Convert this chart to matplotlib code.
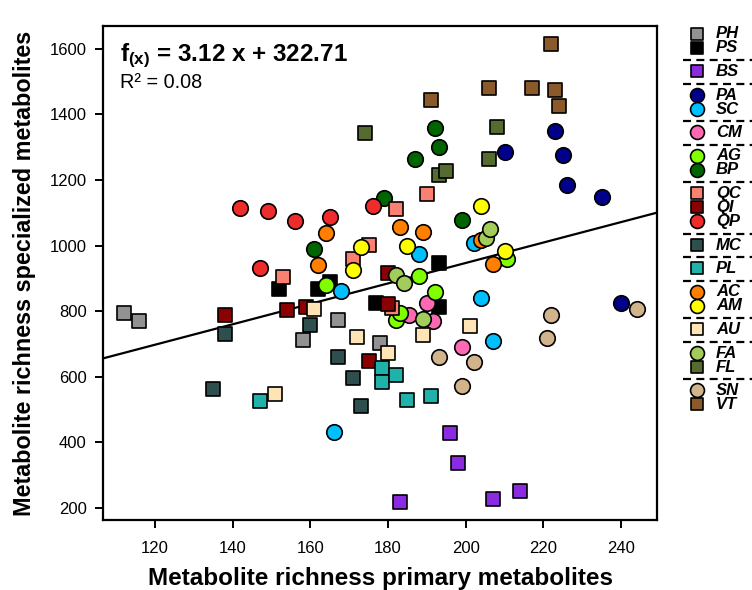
import matplotlib
matplotlib.use("Agg")
import matplotlib.pyplot as plt
import numpy as np

plt.rcParams['font.family'] = ['Liberation Sans', 'DejaVu Sans']
plt.rcParams['mathtext.fontset'] = 'custom'
plt.rcParams['mathtext.rm'] = 'Liberation Sans'
plt.rcParams['mathtext.bf'] = 'Liberation Sans:bold'

# site data (primary richness x, specialized richness y)
PH_x = [112, 116, 158, 167, 178]
PH_y = [793, 770, 712, 772, 701]
PS_x = [152, 162, 165, 177, 193, 193]
PS_y = [867, 867, 890, 824, 813, 947]
BS_x = [183, 196, 198, 207, 214]
BS_y = [216, 428, 335, 225, 251]
PA_x = [210, 223, 225, 226, 235, 240]
PA_y = [1285, 1349, 1276, 1184, 1149, 825]
SC_x = [166, 168, 188, 202, 204, 207]
SC_y = [432, 862, 973, 1007, 840, 709]
CM_x = [185.5, 190, 191.5, 199]
CM_y = [788, 823, 769, 689]
AG_x = [164, 182, 183, 188, 192, 210.5]
AG_y = [878, 772, 793, 908, 858, 958]
BP_x = [161, 179, 187, 192, 193, 199]
BP_y = [988, 1144, 1264, 1359, 1300, 1079]
QC_x = [153, 171, 175, 181, 182, 190]
QC_y = [905, 958, 1001, 810, 1110, 1157]
QI_x = [138, 154, 159, 175, 180, 180]
QI_y = [788, 803, 812, 648, 917, 820]
QP_x = [142, 147, 149, 156, 165, 176]
QP_y = [1114, 930, 1106, 1076, 1087, 1122]
MC_x = [135, 138, 160, 167, 171, 173]
MC_y = [561, 730, 757, 661, 596, 511]
PL_x = [147, 178.4, 178.4, 182, 185, 191]
PL_y = [525, 625, 582, 606, 528, 542]
AC_x = [162, 164, 183, 189, 204, 207]
AC_y = [939, 1039, 1056, 1042, 1016, 944]
AM_x = [171, 173, 185, 204, 210]
AM_y = [926, 994, 999, 1120, 983]
AU_x = [151, 161, 172, 180, 189, 201]
AU_y = [547, 806, 720, 673, 727, 755]
FA_x = [182, 184, 189, 205.3, 206.3]
FA_y = [910, 885, 777, 1022, 1049]
FL_x = [174, 193, 195, 206, 208]
FL_y = [1342, 1216, 1227, 1265, 1362]
SN_x = [193, 199, 202, 221, 222, 244]
SN_y = [660, 570, 645, 719, 788, 805]
VT_x = [191, 206, 217, 222, 223, 224]
VT_y = [1445, 1481, 1481, 1615, 1474, 1425]

groups = [["PH", "PS"], ["BS"], ["PA", "SC"], ["CM"], ["AG", "BP"],
          ["QC", "QI", "QP"], ["MC"], ["PL"], ["AC", "AM"], ["AU"],
          ["FA", "FL"], ["SN", "VT"]]

colors = {"PH": "#929292", "PS": "#000000", "BS": "#8A2BE2", "PA": "#00008B",
          "SC": "#00BFFF", "CM": "#FF69B4", "AG": "#7FFF00", "BP": "#006400",
          "QC": "#FA8072", "QI": "#8B0000", "QP": "#EE2C2C", "MC": "#2F4F4F",
          "PL": "#20B2AA", "AC": "#FF7F00", "AM": "#FFFF00", "AU": "#FFE4B5",
          "FA": "#A2CD5A", "FL": "#556B2F", "SN": "#D2B48C", "VT": "#8B5A2B"}
squares = ["PH", "PS", "BS", "QC", "QI", "MC", "PL", "AU", "FL", "VT"]

data = {k: (globals()[k + "_x"], globals()[k + "_y"]) for g in groups for k in g}

slope, intercept = 3.12, 322.71
r2 = 0.08

fig = plt.figure(figsize=(7.52, 5.90), dpi=100)
ax = fig.add_axes([0.1374, 0.1186, 0.7366, 0.8373])

xlim = (106.7, 249.3)
ax.set_xlim(xlim)
ax.set_ylim(162, 1670)

# regression line
xx = np.array(xlim)
ax.plot(xx, slope * xx + intercept, color="black", lw=1.6, zorder=2)

for g in groups:
    for k in g:
        x, y = data[k]
        if k in squares:
            ax.scatter(x, y, marker="s", s=100, c=colors[k], edgecolors="black",
                       linewidths=1.2, zorder=3)
        else:
            ax.scatter(x, y, marker="o", s=125, c=colors[k], edgecolors="black",
                       linewidths=1.2, zorder=3)

ax.set_xticks([120, 140, 160, 180, 200, 220, 240])
ax.set_yticks([200, 400, 600, 800, 1000, 1200, 1400, 1600])
ax.tick_params(direction="out", length=6, width=1.4, labelsize=12)
ax.tick_params(axis="x", pad=9)
ax.tick_params(axis="y", pad=6)
for sp in ax.spines.values():
    sp.set_linewidth(1.6)

ax.set_xlabel("Metabolite richness primary metabolites", fontsize=17.5,
              fontweight="bold", labelpad=8)
ax.set_ylabel("Metabolite richness specialized metabolites", fontsize=16.8,
              fontweight="bold", labelpad=10)

ax.text(0.03, 0.968, r"$\mathbf{f_{(x)}}$ = 3.12 x + 322.71", transform=ax.transAxes,
        fontsize=17.5, fontweight="bold", va="top", ha="left")
ax.text(0.03, 0.905, "R² = %.2f" % r2, transform=ax.transAxes,
        fontsize=14.3, va="top", ha="left")

# legend drawn in pixel coordinates on an overlay axes
lg = fig.add_axes([0, 0, 1, 1], facecolor="none")
lg.set_xlim(0, 752)
lg.set_ylim(590, 0)
lg.axis("off")
y = 33.5
step, gap = 14.0, 23.5
for i, g in enumerate(groups):
    if i > 0:
        y = y - step + gap
        lg.plot([683, 752], [y - gap / 2 + 1, y - gap / 2 + 1], color="black",
                lw=1.6, ls=(0, (3.6, 2.4)))
    for k in g:
        lg.scatter([697], [y], marker="s" if k in squares else "o",
                   s=80 if k in squares else 100, c=colors[k],
                   edgecolors="black", linewidths=1.2)
        lg.text(716, y + 0.5, k, fontsize=12, fontweight="bold", fontstyle="italic",
                va="center", ha="left")
        y += step

fig.savefig("out.png", dpi=100)
